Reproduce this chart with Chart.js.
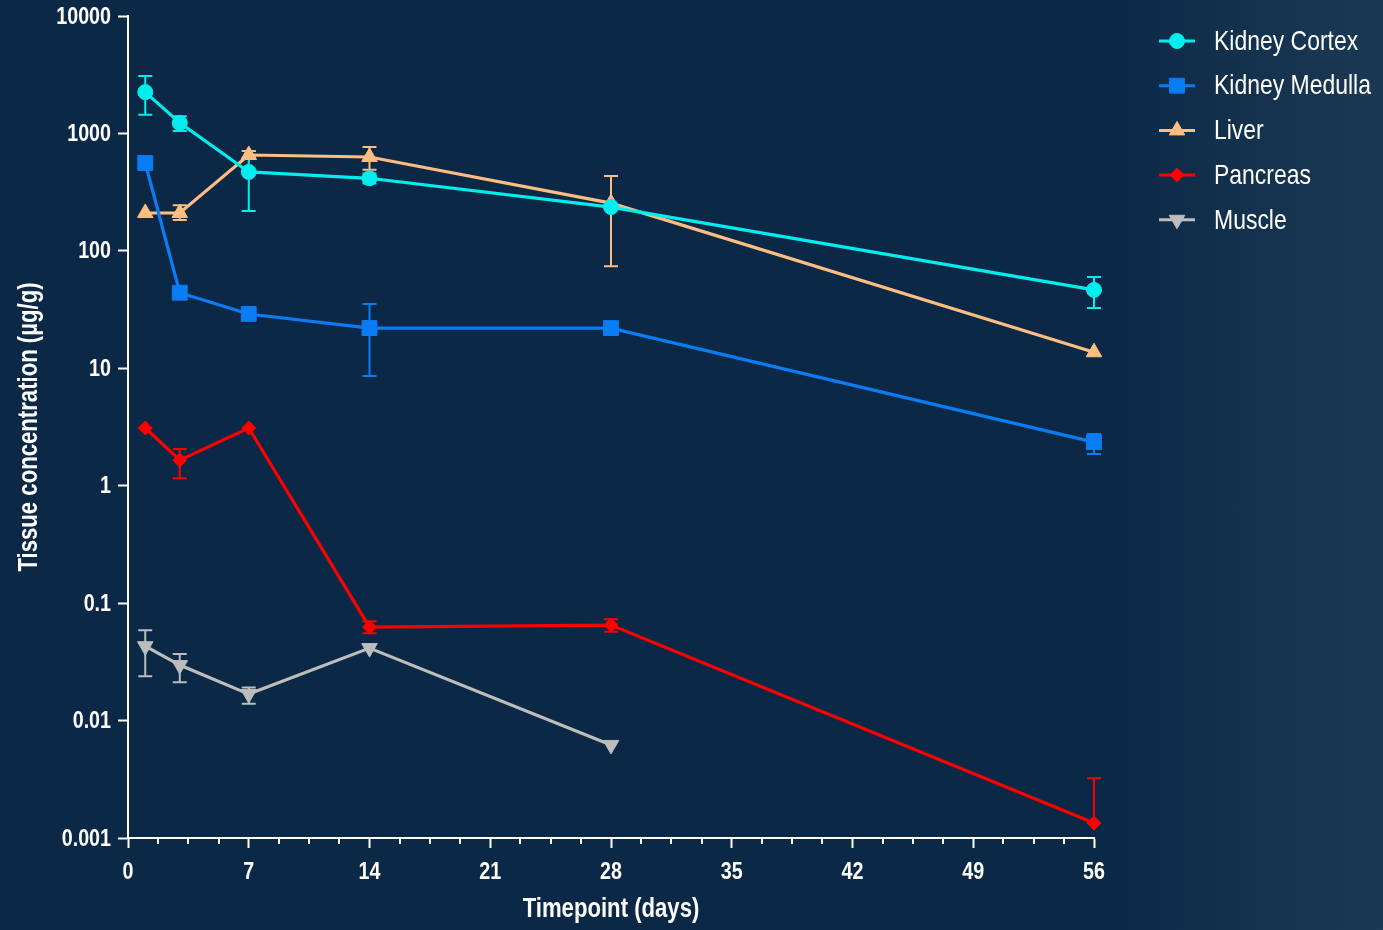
<!DOCTYPE html>
<html lang="en">
<head>
  <meta charset="UTF-8">
  <title>Tissue concentration</title>
  <script src="https://cdn.jsdelivr.net/npm/chart.js"></script>
  <style>
    html, body {
      height: 100%;
      margin: 0;
      padding: 0;
    }
    body {
      background: linear-gradient(90deg, #0b2946 0%, #0b2946 80%, #12304c 88%, #1b3955 100%);
    }
    .chart-box {
      width: 1383px;
      height: 930px;
    }
  </style>
</head>
<body>
<div class="chart-box">
  <canvas id="lineChart" width="1383" height="930"></canvas>
</div>
<script>
  // sampling days
  const days = [1, 3, 7, 14, 28, 56];
  const xTicks = [0, 7, 14, 21, 28, 35, 42, 49, 56];
  const yTicks = [0.001, 0.01, 0.1, 1, 10, 100, 1000, 10000];
  const xTitle = 'Timepoint (days)';
  const yTitle = 'Tissue concentration (µg/g)';

  // means
  const cortex   = [2250, 1230, 470, 415, 236, 46.5];
  const medulla  = [560, 44, 29, 22, 22, 2.35];
  const liver    = [210, 210, 655, 630, 255, 13.7];
  const pancreas = [3.1, 1.65, 3.1, 0.0625, 0.065, 0.00134];
  const muscle   = [0.043, 0.0297, 0.0168, 0.0414, 0.0062];

  // error bars (low / high), null = none shown
  const cortexLo   = [1440, 1050, 218, 375, null, 32.6];
  const cortexHi   = [3080, 1400, 708, 455, null, 60];
  const medullaLo  = [510, null, null, 8.6, null, 1.86];
  const medullaHi  = [600, null, null, 35.3, null, 2.75];
  const liverLo    = [null, 183, 620, 490, 74, null];
  const liverHi    = [null, 245, 708, 766, 433, null];
  const pancreasLo = [null, 1.16, null, 0.0555, 0.057, null];
  const pancreasHi = [null, 2.05, null, 0.070, 0.073, 0.00323];
  const muscleLo   = [0.0239, 0.0212, 0.0139, null, null];
  const muscleHi   = [0.0589, 0.0368, 0.0191, null, null];

  const font = "'Liberation Sans', Arial, sans-serif";
  const NARROW = 0.82; // squeeze text to look like a narrow face

  function pts(ys) {
    return ys.map((y, i) => ({ x: days[i], y: y }));
  }

  function series(label, ys, lo, hi, color, style, radius, rotation) {
    return {
      label: label,
      data: pts(ys),
      errLo: lo,
      errHi: hi,
      clip: false,
      borderColor: color,
      backgroundColor: color,
      borderWidth: 3.2,
      pointStyle: style,
      pointRadius: radius,
      pointHoverRadius: radius,
      pointRotation: rotation || 0,
      pointBorderWidth: 1,
      pointBackgroundColor: color,
      pointBorderColor: color,
      tension: 0
    };
  }

  // narrow text helper
  function narrowText(ctx, text, x, y, align, size, weight, angle) {
    ctx.save();
    ctx.translate(x, y);
    if (angle) ctx.rotate(angle);
    ctx.scale(NARROW, 1);
    ctx.font = (weight || 'normal') + ' ' + size + 'px ' + font;
    ctx.textAlign = align;
    ctx.textBaseline = 'middle';
    ctx.fillStyle = '#ffffff';
    ctx.fillText(text, 0, 0);
    ctx.restore();
  }

  // draw error bars through the chart scales
  const errorBars = {
    id: 'errorBars',
    beforeDatasetsDraw(chart) {
      const ctx = chart.ctx;
      const xs = chart.scales.x, ys = chart.scales.y;
      chart.data.datasets.forEach(ds => {
        ds.data.forEach((p, i) => {
          const lo = ds.errLo[i], hi = ds.errHi[i];
          if (lo == null && hi == null) return;
          const px = xs.getPixelForValue(p.x);
          const y0 = ys.getPixelForValue(lo != null ? lo : p.y);
          const y1 = ys.getPixelForValue(hi != null ? hi : p.y);
          ctx.save();
          ctx.strokeStyle = ds.borderColor;
          ctx.lineWidth = 2;
          ctx.beginPath();
          ctx.moveTo(px, y0);
          ctx.lineTo(px, y1);
          if (lo != null) { ctx.moveTo(px - 7, y0); ctx.lineTo(px + 7, y0); }
          if (hi != null) { ctx.moveTo(px - 7, y1); ctx.lineTo(px + 7, y1); }
          ctx.stroke();
          ctx.restore();
        });
      });
    }
  };

  // minor ticks, tick labels and axis titles
  const axisText = {
    id: 'axisText',
    afterDraw(chart) {
      const ctx = chart.ctx;
      const xs = chart.scales.x, ys = chart.scales.y;
      const area = chart.chartArea;
      ctx.save();
      ctx.strokeStyle = '#ffffff';
      ctx.lineWidth = 2;
      ctx.beginPath();
      for (let v = 0; v < 56; v += 7) {
        for (let k = 1; k <= 3; k++) {
          const px = Math.round(xs.getPixelForValue(v + k * 1.75));
          ctx.moveTo(px, area.bottom);
          ctx.lineTo(px, area.bottom + 6);
        }
      }
      ctx.stroke();
      ctx.restore();

      yTicks.forEach(v => {
        narrowText(ctx, String(v), area.left - 17, ys.getPixelForValue(v) + 1, 'right', 24, 'bold');
      });
      xTicks.forEach(v => {
        narrowText(ctx, String(v), xs.getPixelForValue(v), area.bottom + 34, 'center', 24, 'bold');
      });
      narrowText(ctx, xTitle, (area.left + area.right) / 2, area.bottom + 72, 'center', 27, 'bold');
      narrowText(ctx, yTitle, 30, (area.top + area.bottom) / 2, 'center', 27, 'bold', -Math.PI / 2);
    }
  };

  // legend with line + marker
  const sideLegend = {
    id: 'sideLegend',
    afterDraw(chart) {
      const ctx = chart.ctx;
      const x0 = 1159, x1 = 1195, tx = 1214;
      chart.data.datasets.forEach((ds, i) => {
        const y = 41 + i * 44.7;
        ctx.save();
        ctx.strokeStyle = ds.borderColor;
        ctx.lineWidth = 3;
        ctx.beginPath();
        ctx.moveTo(x0, y);
        ctx.lineTo(x1, y);
        ctx.stroke();
        ctx.fillStyle = ds.backgroundColor;
        ctx.lineWidth = 1;
        Chart.helpers.drawPoint(ctx, {
          pointStyle: ds.pointStyle,
          rotation: ds.pointRotation,
          radius: ds.pointRadius,
          borderWidth: 1
        }, (x0 + x1) / 2, y);
        ctx.restore();
        narrowText(ctx, ds.label, tx, y + 1, 'left', 28, 'normal');
      });
    }
  };

  const ctxLine = document.getElementById('lineChart').getContext('2d');
  new Chart(ctxLine, {
    type: 'line',
    data: {
      datasets: [
        series('Kidney Cortex', cortex, cortexLo, cortexHi, '#00eeee', 'circle', 7.5),
        series('Kidney Medulla', medulla, medullaLo, medullaHi, '#0a7cf5', 'rect', 10.5),
        series('Liver', liver, liverLo, liverHi, '#ffbd82', 'triangle', 9),
        series('Pancreas', pancreas, pancreasLo, pancreasHi, '#ff0000', 'rectRot', 7),
        series('Muscle', muscle, muscleLo, muscleHi, '#bdbdbd', 'triangle', 9, 180)
      ]
    },
    plugins: [errorBars, axisText, sideLegend],
    options: {
      responsive: false,
      animation: false,
      layout: { padding: { top: 16, right: 289, bottom: 0, left: 0 } },
      plugins: {
        legend: { display: false },
        tooltip: { enabled: false }
      },
      scales: {
        x: {
          type: 'linear',
          min: 0,
          max: 56,
          afterBuildTicks: scale => { scale.ticks = xTicks.map(v => ({ value: v })); },
          afterFit: scale => { scale.height = 92; },
          ticks: { display: false },
          grid: {
            drawOnChartArea: false,
            drawTicks: true,
            tickLength: 10,
            tickWidth: 2,
            tickColor: '#ffffff'
          },
          border: { color: '#ffffff', width: 2 }
        },
        y: {
          type: 'logarithmic',
          min: 0.001,
          max: 10000,
          afterBuildTicks: scale => { scale.ticks = yTicks.map(v => ({ value: v })); },
          afterFit: scale => { scale.width = 128; },
          ticks: { display: false },
          grid: {
            drawOnChartArea: false,
            drawTicks: true,
            tickLength: 10,
            tickWidth: 2,
            tickColor: '#ffffff'
          },
          border: { color: '#ffffff', width: 2 }
        }
      }
    }
  });
</script>
</body>
</html>
